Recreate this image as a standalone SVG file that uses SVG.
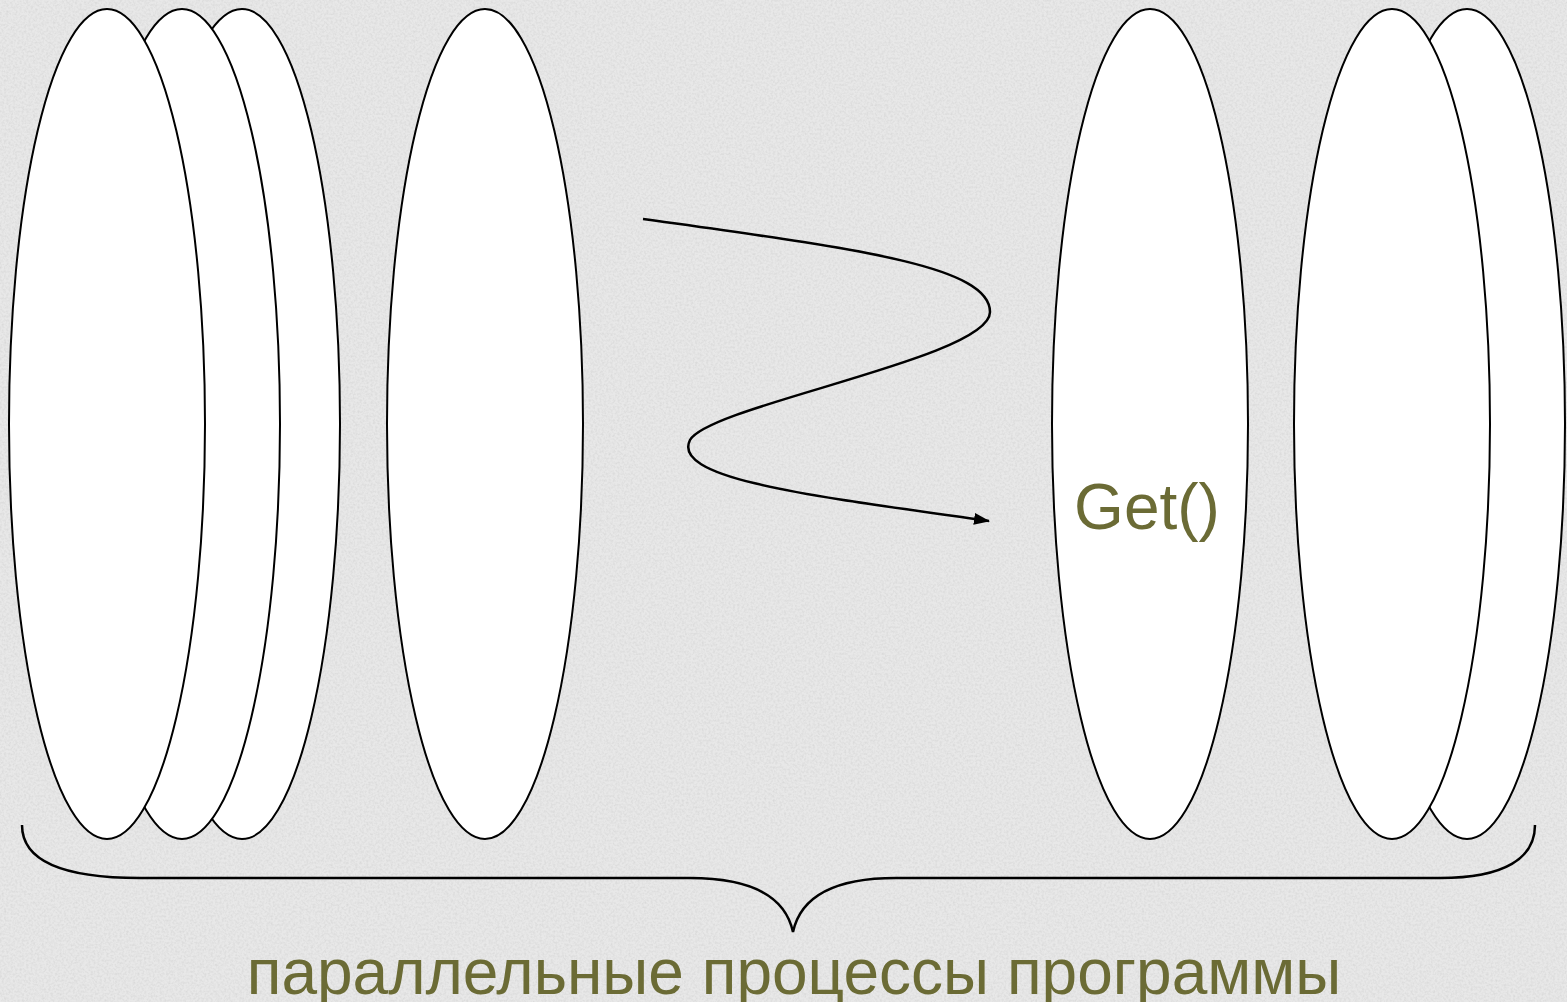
<svg xmlns="http://www.w3.org/2000/svg" width="1567" height="1002" viewBox="0 0 1567 1002">
<style>
.proc{fill:#ffffff;stroke:#000000;stroke-width:2}
.conn{fill:none;stroke:#000000;stroke-width:2.5}
.lbl{font-family:"Liberation Sans",Arial,sans-serif;fill:#6b6b35}
</style>
<defs>
<filter id="grain" x="0" y="0" width="100%" height="100%">
<feTurbulence type="fractalNoise" baseFrequency="0.45" numOctaves="2" seed="3" result="n"/>
<feColorMatrix in="n" type="matrix" values="0 0 0 0 0.6  0 0 0 0 0.6  0 0 0 0 0.6  0 0 0 -1.6 1.0" result="m"/>
<feComposite in="m" in2="SourceGraphic" operator="in"/>
</filter>
<marker id="arr" markerWidth="16" markerHeight="12" refX="15" refY="6" orient="auto" markerUnits="userSpaceOnUse">
<path d="M0,0 L16,6 L0,12 z" fill="#000"/>
</marker>
</defs>
<rect width="1567" height="1002" fill="#e8e8e8"/>
<rect width="1567" height="1002" fill="#e8e8e8" filter="url(#grain)" opacity="0.6"/>
<g id="proc-c"><ellipse class="proc" cx="242" cy="424" rx="98" ry="415"/></g>
<g id="proc-b"><ellipse class="proc" cx="182" cy="424" rx="98" ry="415"/></g>
<g id="proc-a"><ellipse class="proc" cx="107" cy="424" rx="98" ry="415"/></g>
<g id="proc-d"><ellipse class="proc" cx="485" cy="424" rx="98" ry="415"/></g>
<g id="proc-e"><ellipse class="proc" cx="1150" cy="424" rx="98" ry="415"/><text class="lbl" x="1147" y="529" font-size="64" text-anchor="middle">Get()</text></g>
<g id="proc-g"><ellipse class="proc" cx="1467" cy="424" rx="98" ry="415"/></g>
<g id="proc-f"><ellipse class="proc" cx="1392" cy="424" rx="98" ry="415"/></g>
<g id="connectors">
<path class="conn" d="M643,219 C850,248 990,265 990,312 C990,358 710,405 690,440 C670,480 820,497 989,521" marker-end="url(#arr)"/>
<path class="conn" d="M22,825 C22,862 65,878 140,878 L690,878 C750,878 785,895 793,932 C801,895 836,878 896,878 L1440,878 C1505,878 1535,858 1535,825"/>
</g>
<text class="lbl" x="794" y="994" font-size="64" text-anchor="middle">параллельные процессы программы</text>
</svg>
